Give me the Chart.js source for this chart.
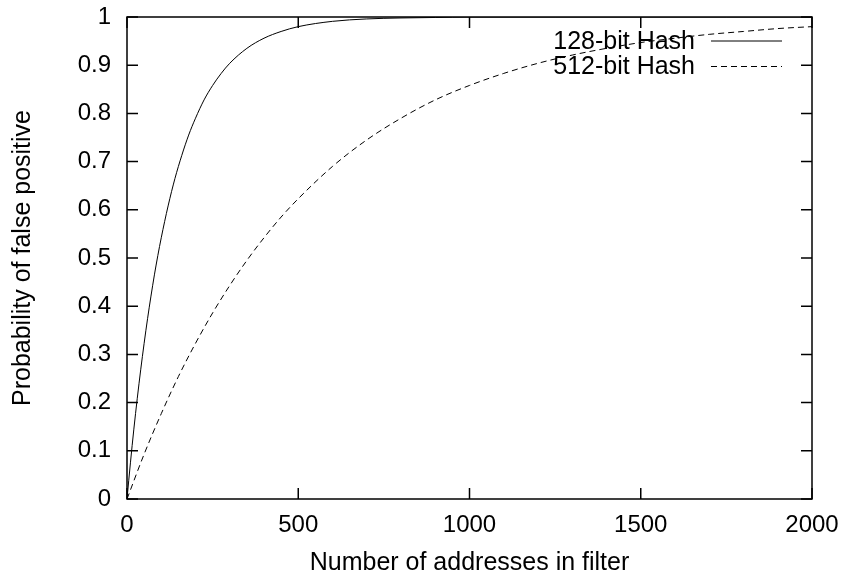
<!DOCTYPE html>
<html>
<head>
<meta charset="utf-8">
<script src="https://cdn.jsdelivr.net/npm/chart.js@4/dist/chart.umd.min.js"></script>
<style>
    html, body { margin: 0; padding: 0; background: #fff; }
</style>
</head>
<body>
<canvas id="fpChart" width="846" height="575"></canvas>
<script>
// values
var addresses128 = [0, 10, 20, 30, 40, 50, 60, 70, 80, 90, 100, 120, 140, 160, 180, 200, 225, 250, 275, 300,
    350, 400, 450, 500, 600, 700, 800, 900, 1000, 1250, 1500, 1750, 2000];
var falsePos128 = [0, 0.075, 0.145, 0.209, 0.268, 0.323, 0.374, 0.421, 0.465, 0.505, 0.542, 0.608, 0.665, 0.713, 0.755, 0.790, 0.828, 0.858, 0.883, 0.904,
    0.935, 0.956, 0.970, 0.980, 0.991, 0.996, 0.998, 0.999, 1, 1, 1, 1, 1];

var addresses512 = [0, 50, 100, 150, 200, 250, 300, 350, 400, 450, 500, 600, 700, 800, 900, 1000,
    1100, 1200, 1300, 1400, 1500, 1600, 1700, 1800, 1900, 2000];
var falsePos512 = [0, 0.093, 0.177, 0.254, 0.323, 0.386, 0.443, 0.495, 0.542, 0.585, 0.623, 0.690, 0.745, 0.790, 0.828, 0.858,
    0.883, 0.904, 0.921, 0.935, 0.947, 0.956, 0.964, 0.970, 0.976, 0.980];

var seriesNames = ['128-bit Hash', '512-bit Hash'];
var xTickValues = [0, 500, 1000, 1500, 2000];
var yTickValues = [0, 0.1, 0.2, 0.3, 0.4, 0.5, 0.6, 0.7, 0.8, 0.9, 1];

var FONT = '"Liberation Sans", Arial, Helvetica, sans-serif';

function toPoints(xs, ys) {
    return xs.map(function (x, i) { return { x: x, y: ys[i] }; });
}

// gnuplot-ish frame: box border, inward ticks on all four sides, and key in the top right
var gnuplotFrame = {
    id: 'gnuplotFrame',
    afterDatasetsDraw: function (chart) {
        var ctx = chart.ctx, a = chart.chartArea;
        var xs = chart.scales.x, ys = chart.scales.y;
        var tick = 11;
        ctx.save();
        ctx.strokeStyle = '#000';
        ctx.lineWidth = 1.5;
        ctx.strokeRect(a.left, a.top, a.right - a.left, a.bottom - a.top);
        ctx.beginPath();
        xs.ticks.forEach(function (t) {
            var px = xs.getPixelForValue(t.value);
            ctx.moveTo(px, a.bottom); ctx.lineTo(px, a.bottom - tick);
            ctx.moveTo(px, a.top); ctx.lineTo(px, a.top + tick);
        });
        ys.ticks.forEach(function (t) {
            var py = ys.getPixelForValue(t.value);
            ctx.moveTo(a.left, py); ctx.lineTo(a.left + tick, py);
            ctx.moveTo(a.right, py); ctx.lineTo(a.right - tick, py);
        });
        ctx.stroke();

        // key
        ctx.font = '25px ' + FONT;
        ctx.fillStyle = '#000';
        ctx.textAlign = 'right';
        ctx.textBaseline = 'middle';
        chart.data.datasets.forEach(function (ds, i) {
            var y = 41 + i * 25.5;
            ctx.fillText(ds.label, 695, y + 1);
            ctx.beginPath();
            ctx.lineWidth = ds.borderWidth;
            ctx.setLineDash(ds.borderDash || []);
            ctx.moveTo(711, y);
            ctx.lineTo(782, y);
            ctx.stroke();
        });
        ctx.restore();
    }
};

new Chart(document.getElementById('fpChart'), {
    type: 'line',
    data: {
        datasets: [
            {
                label: seriesNames[0],
                data: toPoints(addresses128, falsePos128),
                borderColor: '#000',
                borderWidth: 1,
                pointRadius: 0,
                cubicInterpolationMode: 'monotone',
                fill: false
            },
            {
                label: seriesNames[1],
                data: toPoints(addresses512, falsePos512),
                borderColor: '#000',
                borderWidth: 1,
                borderDash: [6, 4],
                pointRadius: 0,
                cubicInterpolationMode: 'monotone',
                fill: false
            }
        ]
    },
    options: {
        responsive: false,
        animation: false,
        devicePixelRatio: 1,
        layout: { padding: { top: 17, right: 34, left: 0, bottom: 0 } },
        plugins: {
            legend: { display: false },
            tooltip: { enabled: false }
        },
        scales: {
            x: {
                type: 'linear',
                min: 0,
                max: 2000,
                afterBuildTicks: function (scale) {
                    scale.ticks = xTickValues.map(function (v) { return { value: v }; });
                },
                afterFit: function (scale) {
                    scale.height = 76;
                    scale.paddingLeft = 0;
                    scale.paddingRight = 0;
                },
                grid: { display: false, drawTicks: false, tickLength: 0 },
                border: { display: false },
                ticks: {
                    padding: 12,
                    maxRotation: 0,
                    color: '#000',
                    font: { family: FONT, size: 24 },
                    callback: function (v) { return String(v); }
                },
                title: {
                    display: true,
                    text: 'Number of addresses in filter',
                    color: '#000',
                    font: { family: FONT, size: 25 },
                    padding: { top: 0, bottom: -3 }
                }
            },
            y: {
                type: 'linear',
                min: 0,
                max: 1,
                afterBuildTicks: function (scale) {
                    scale.ticks = yTickValues.map(function (v) { return { value: v }; });
                },
                afterFit: function (scale) {
                    scale.width = 127;
                    scale.paddingTop = 0;
                    scale.paddingBottom = 0;
                },
                grid: { display: false, drawTicks: false, tickLength: 0 },
                border: { display: false },
                ticks: {
                    padding: 16,
                    color: '#000',
                    font: { family: FONT, size: 24 },
                    callback: function (v) { return String(Math.round(v * 10) / 10); }
                },
                title: {
                    display: true,
                    text: 'Probability of false positive',
                    color: '#000',
                    font: { family: FONT, size: 25 },
                    padding: { top: 8, bottom: 0 }
                }
            }
        }
    },
    plugins: [gnuplotFrame]
});
</script>
</body>
</html>
